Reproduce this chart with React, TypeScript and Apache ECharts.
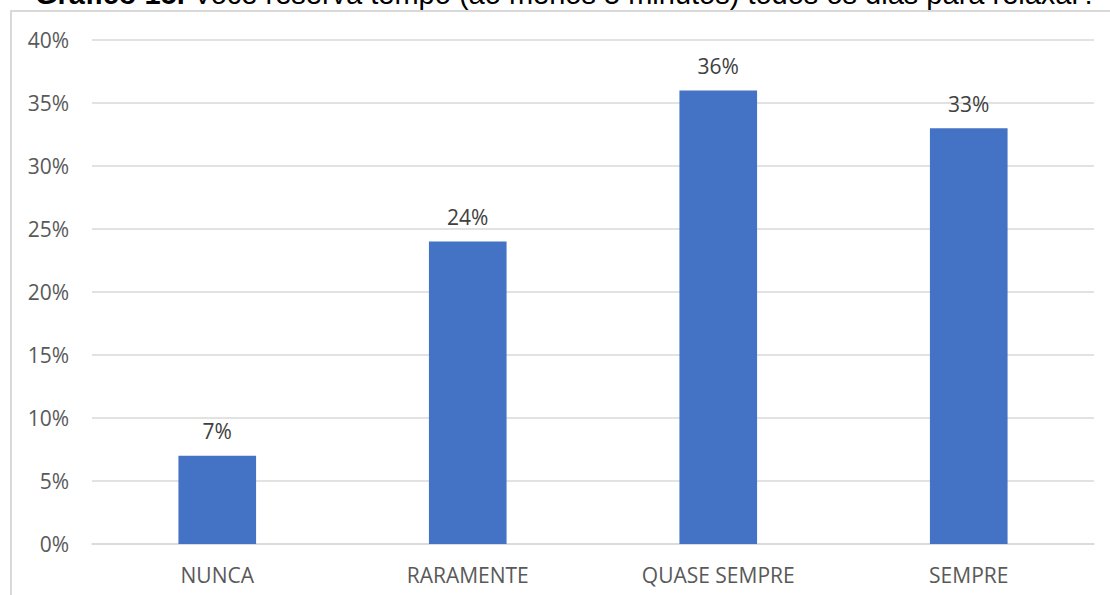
import React, { useEffect, useRef } from "react";
import * as echarts from "echarts";

const titleBold = "Gráfico 15.";
const titleRest = " Você reserva tempo (ao menos 5 minutos) todos os dias para relaxar?";
const categories = ["NUNCA", "RARAMENTE", "QUASE SEMPRE", "SEMPRE"];
const values = [7, 24, 36, 33];
const yMin = 0;
const yMax = 40;
const yStep = 5;

export default function App() {
  const ref = useRef<HTMLDivElement>(null);
  useEffect(() => {
    if (!ref.current) return;
    const chart = echarts.init(ref.current, null, { renderer: "svg" });
    chart.setOption({
      animation: false,
      backgroundColor: "#ffffff",
      graphic: [
        {
          type: "rect",
          shape: { x: 11, y: 11, width: 1110, height: 600 },
          style: { fill: "none", stroke: "#d9d9d9", lineWidth: 2 },
          z: 0,
        },
        {
          type: "text",
          x: 35,
          y: -6,
          style: {
            text: "{b|" + titleBold + "}" + titleRest,
            font: "29px 'Liberation Sans', Arial, sans-serif",
            fill: "#000000",
            verticalAlign: "middle",
            rich: {
              b: { font: "bold 29px 'Liberation Sans', Arial, sans-serif", fill: "#000000" },
            },
          },
          z: 10,
        },
      ],
      grid: { left: 92, right: 16, top: 40, bottom: 51, containLabel: false },
      xAxis: {
        type: "category",
        data: categories,
        axisTick: { show: false },
        axisLine: { lineStyle: { color: "#d9d9d9", width: 1.5 } },
        axisLabel: {
          color: "#595959",
          fontFamily: "'Open Sans', sans-serif",
          fontSize: 21,
          margin: 20,
        },
      },
      yAxis: {
        type: "value",
        min: yMin,
        max: yMax,
        interval: yStep,
        axisLine: { show: false },
        axisTick: { show: false },
        splitLine: { lineStyle: { color: "#d9d9d9", width: 1.5 } },
        axisLabel: {
          color: "#595959",
          fontFamily: "'Open Sans', sans-serif",
          fontSize: 21,
          margin: 23,
          formatter: (v: number) => v + "%",
        },
      },
      series: [
        {
          type: "bar",
          data: values,
          barWidth: "31%",
          itemStyle: { color: "#4472C4" },
          label: {
            show: true,
            position: "top",
            distance: 14,
            color: "#404040",
            fontFamily: "'Open Sans', sans-serif",
            fontSize: 21,
            formatter: (p: any) => p.value + "%",
          },
        },
      ],
    });
    return () => chart.dispose();
  }, []);
  return (
    <div
      ref={ref}
      style={{ position: "fixed", left: 0, top: 0, width: 1110, height: 595 }}
    />
  );
}
